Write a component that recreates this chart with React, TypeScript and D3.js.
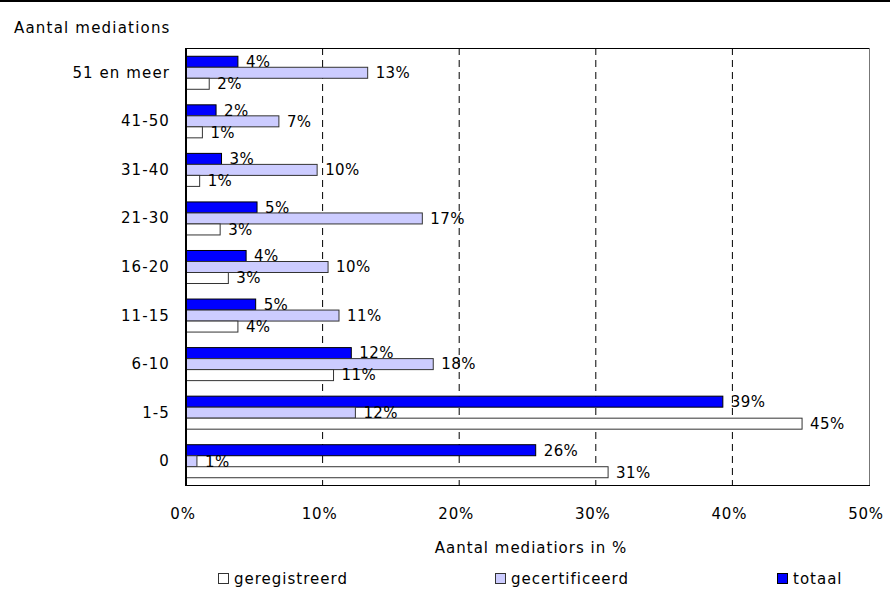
import React from "react";
import * as d3 from "d3";

// Number of mediations per mediator, share of mediators in %
const categories = ["51 en meer", "41-50", "31-40", "21-30", "16-20", "11-15", "6-10", "1-5", "0"];
const totaal = [3.8, 2.2, 2.6, 5.2, 4.4, 5.1, 12.1, 39.3, 25.6];
const gecertificeerd = [13.3, 6.8, 9.6, 17.3, 10.4, 11.2, 18.1, 12.4, 0.8];
const geregistreerd = [1.7, 1.2, 1.0, 2.5, 3.1, 3.8, 10.8, 45.1, 30.9];
const xTicks = [0, 10, 20, 30, 40, 50];

const W = 892;
const H = 589;
const FONT = "'DejaVu Sans', Verdana, sans-serif";

const seriesKeys = ["totaal", "gecertificeerd", "geregistreerd"];
const seriesValues: Record<string, number[]> = { totaal, gecertificeerd, geregistreerd };
const seriesFill: Record<string, string> = {
  totaal: "#0000ff",
  gecertificeerd: "#ccccff",
  geregistreerd: "#ffffff",
};
const seriesStroke: Record<string, string> = {
  totaal: "#000000",
  gecertificeerd: "#333333",
  geregistreerd: "#333333",
};

export default function App() {
  const left = 186;
  const right = 869;
  const top = 48;
  const bottom = 485;

  const x = d3.scaleLinear().domain([0, 50]).range([left, right]);
  const y = d3.scaleBand<string>().domain(categories).range([top, bottom]).paddingInner(0.32).paddingOuter(0.16);
  const sub = d3.scaleBand<string>().domain(seriesKeys).range([0, y.bandwidth()]);

  const legendItems = [
    { key: "geregistreerd", x: 218 },
    { key: "gecertificeerd", x: 495 },
    { key: "totaal", x: 777 },
  ];

  return (
    <svg
      width={W}
      height={H}
      style={{ position: "fixed", top: 0, left: 0, background: "#fff" }}
      fontFamily={FONT}
    >
      <rect x={0} y={0} width={W} height={H} fill="#fff" />
      <line x1={0} x2={890} y1={1} y2={1} stroke="#000" strokeWidth={2} />

      {/* dashed vertical gridlines */}
      {xTicks.slice(1, -1).map((t) => (
        <line
          key={t}
          x1={x(t)}
          x2={x(t)}
          y1={top}
          y2={bottom}
          stroke="#000"
          strokeWidth={1}
          strokeDasharray="7,5"
        />
      ))}

      {/* plot frame */}
      <line x1={left} x2={right} y1={top + 0.5} y2={top + 0.5} stroke="#000" strokeWidth={1} />
      <line x1={right + 0.5} x2={right + 0.5} y1={top} y2={bottom} stroke="#777" strokeWidth={1} />
      <line x1={left} x2={right + 1} y1={bottom + 0.5} y2={bottom + 0.5} stroke="#000" strokeWidth={1} />

      {/* bars */}
      {categories.map((c, i) => (
        <g key={c}>
          {seriesKeys.map((k) => {
            const v = seriesValues[k][i];
            const y0 = (y(c) as number) + (sub(k) as number);
            return (
              <rect
                key={k}
                x={x(0)}
                y={y0 + 0.5}
                width={x(v) - x(0)}
                height={sub.bandwidth()}
                fill={seriesFill[k]}
                stroke={seriesStroke[k]}
                strokeWidth={1}
              />
            );
          })}
        </g>
      ))}

      {/* value labels */}
      {categories.map((c, i) => (
        <g key={c + "-lbl"}>
          {seriesKeys.map((k) => {
            const v = seriesValues[k][i];
            const yc = (y(c) as number) + (sub(k) as number) + sub.bandwidth() / 2;
            return (
              <text
                key={k}
                x={x(v) + 8}
                y={yc + 5.8}
                fontSize={15}
                letterSpacing={0.4}
                fill="#000"
              >
                {Math.round(v)}%
              </text>
            );
          })}
        </g>
      ))}

      {/* left axis */}
      <line x1={left} x2={left} y1={top} y2={bottom + 1} stroke="#000" strokeWidth={2} />
      {categories.map((c) => (
        <text
          key={c + "-tick"}
          x={170}
          y={(y(c) as number) + y.bandwidth() / 2 + 5.5}
          textAnchor="end"
          fontSize={15}
          letterSpacing={1.1}
          fill="#000"
        >
          {c}
        </text>
      ))}

      {/* bottom tick labels */}
      {xTicks.map((t) => (
        <text key={t} x={x(t) - 3} y={519} textAnchor="middle" fontSize={15} letterSpacing={0.8} fill="#000">
          {t}%
        </text>
      ))}

      <text x={14} y={33} fontSize={15} letterSpacing={1.2} fill="#000">
        Aantal mediations
      </text>
      <text x={531} y={553} textAnchor="middle" fontSize={15} letterSpacing={1} fill="#000">
        Aantal mediatiors in %
      </text>

      {/* legend */}
      {legendItems.map((it) => (
        <g key={it.key}>
          <rect
            x={it.x + 0.5}
            y={573.5}
            width={10}
            height={10}
            fill={seriesFill[it.key]}
            stroke={seriesStroke[it.key]}
            strokeWidth={1}
          />
          <text x={it.x + 16} y={584} fontSize={15} letterSpacing={1} fill="#000">
            {it.key}
          </text>
        </g>
      ))}
    </svg>
  );
}
